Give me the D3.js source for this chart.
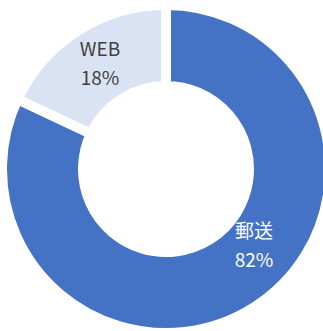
<!DOCTYPE html>
<html><head><meta charset="utf-8">
<script src="https://cdn.jsdelivr.net/npm/d3@7"></script>
<style>html,body{margin:0;padding:0;background:#fff;overflow:hidden}</style>
</head><body>
<svg id="c" width="323" height="331"></svg>
<script>
const categories = ["郵送", "WEB"];
const values = [82, 18];
const percentLabels = ["82%", "18%"];
const colors = ["#4472C4", "#DAE3F3"];
const textColors = ["#FFFFFF", "#404040"];

const svg = d3.select("#c");
const cx = 166, cy = 169;
const R = 164, r = 83;
const g = svg.append("g").attr("transform", `translate(${cx},${cy})`);
const pie = d3.pie().sort(null).value(d => d)(values);
const arc = d3.arc().innerRadius(r).outerRadius(R);
g.selectAll("path").data(pie).enter().append("path")
  .attr("d", arc)
  .attr("fill", (d, i) => colors[i])
  .attr("stroke", "#fff").attr("stroke-width", 10).attr("stroke-linejoin", "miter");

// label positions (relative offsets from centroid chosen to match)
const labelArc = d3.arc().innerRadius(r).outerRadius(R);
const labelPos = [[254, 239], [100, 57]];
const lbl = svg.selectAll("g.lbl").data(pie).enter().append("g").attr("class", "lbl");
lbl.append("text")
  .attr("x", (d, i) => labelPos[i][0]).attr("y", (d, i) => labelPos[i][1] - 1)
  .attr("text-anchor", "middle")
  .attr("font-family", "'Noto Sans CJK JP', sans-serif")
  .attr("font-size", 19)
  .attr("fill", (d, i) => textColors[i])
  .text((d, i) => categories[i]);
lbl.append("text")
  .attr("x", (d, i) => labelPos[i][0]).attr("y", (d, i) => labelPos[i][1] + 28)
  .attr("text-anchor", "middle")
  .attr("font-family", "'Noto Sans CJK JP', sans-serif")
  .attr("font-size", 19)
  .attr("fill", (d, i) => textColors[i])
  .text((d, i) => percentLabels[i]);
</script>
</body></html>
